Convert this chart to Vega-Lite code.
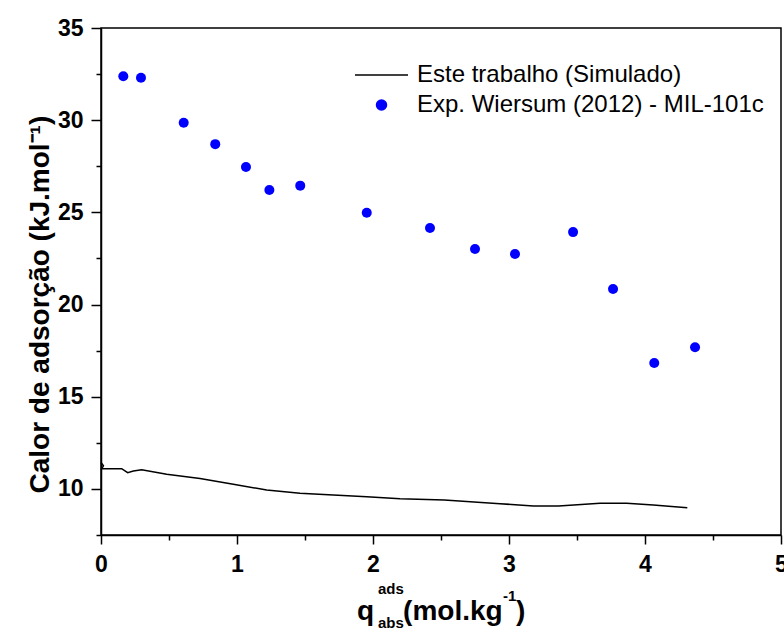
{
  "$schema": "https://vega.github.io/schema/vega-lite/v6.json",
  "width": 680,
  "height": 507,
  "autosize": {"type": "none"},
  "padding": {"left": 101, "top": 28, "right": 3, "bottom": 95},
  "background": "white",
  "config": {
    "font": "Liberation Sans",
    "view": {"stroke": "black", "strokeWidth": 1.5},
    "axis": {
      "grid": false,
      "domainColor": "black",
      "domainWidth": 1.5,
      "tickColor": "black",
      "tickWidth": 1.5,
      "labelColor": "black",
      "titleColor": "black",
      "labelFont": "Liberation Sans",
      "titleFont": "Liberation Sans",
      "labelFontWeight": "bold",
      "labelFontSize": 23,
      "labelFlush": false,
      "labelOverlap": false
    },
    "text": {"font": "Liberation Sans", "color": "black"}
  },
  "datasets": {
    "sim": [
      {"i": 0, "q": 0.0, "H": 11.43},
      {"i": 1, "q": 0.018, "H": 11.25},
      {"i": 2, "q": 0.005, "H": 11.10},
      {"i": 3, "q": 0.152, "H": 11.10},
      {"i": 4, "q": 0.196, "H": 10.88},
      {"i": 5, "q": 0.238, "H": 10.97},
      {"i": 6, "q": 0.299, "H": 11.04},
      {"i": 7, "q": 0.483, "H": 10.79},
      {"i": 8, "q": 0.728, "H": 10.57},
      {"i": 9, "q": 0.973, "H": 10.25},
      {"i": 10, "q": 1.218, "H": 9.94},
      {"i": 11, "q": 1.463, "H": 9.76},
      {"i": 12, "q": 1.708, "H": 9.67},
      {"i": 13, "q": 1.954, "H": 9.58},
      {"i": 14, "q": 2.199, "H": 9.47},
      {"i": 15, "q": 2.524, "H": 9.40},
      {"i": 16, "q": 2.934, "H": 9.20},
      {"i": 17, "q": 3.179, "H": 9.07},
      {"i": 18, "q": 3.365, "H": 9.07},
      {"i": 19, "q": 3.669, "H": 9.22},
      {"i": 20, "q": 3.865, "H": 9.22},
      {"i": 21, "q": 4.061, "H": 9.13},
      {"i": 22, "q": 4.311, "H": 8.98}
    ],
    "exp": [
      {"q": 0.164, "H": 32.38},
      {"q": 0.294, "H": 32.30},
      {"q": 0.608, "H": 29.86},
      {"q": 0.840, "H": 28.70},
      {"q": 1.066, "H": 27.46},
      {"q": 1.238, "H": 26.21},
      {"q": 1.465, "H": 26.45},
      {"q": 1.954, "H": 24.98},
      {"q": 2.419, "H": 24.15},
      {"q": 2.750, "H": 23.01},
      {"q": 3.044, "H": 22.74},
      {"q": 3.471, "H": 23.93},
      {"q": 3.765, "H": 20.84},
      {"q": 4.068, "H": 16.83},
      {"q": 4.368, "H": 17.68}
    ]
  },
  "layer": [
    {
      "data": {"name": "sim"},
      "mark": {"type": "line", "strokeWidth": 1.5},
      "encoding": {
        "x": {
          "field": "q", "type": "quantitative",
          "scale": {"domain": [0, 5], "nice": false, "zero": false},
          "axis": {"orient": "bottom", "values": [0, 1, 2, 3, 4, 5], "format": "d", "tickSize": 9, "labelPadding": 9, "title": null}
        },
        "y": {
          "field": "H", "type": "quantitative",
          "scale": {"domain": [7.5, 35], "nice": false, "zero": false},
          "axis": {
            "orient": "left", "values": [10, 15, 20, 25, 30, 35], "format": "d", "tickSize": 10, "labelPadding": 8,
            "title": "Calor de adsorção (kJ.mol⁻¹)",
            "titleFontSize": 28, "titleFontWeight": "bold",
            "titleAngle": 270, "titleAlign": "left", "titleBaseline": "alphabetic",
            "titleX": -53, "titleY": 465
          }
        },
        "color": {
          "datum": "Este trabalho (Simulado)",
          "scale": {"domain": ["Este trabalho (Simulado)", "Exp. Wiersum (2012) - MIL-101c"], "range": ["black", "blue"]},
          "legend": {
            "orient": "none", "legendX": 254, "legendY": 32, "title": null, "padding": 0,
            "clipHeight": 30, "rowPadding": 0,
            "labelFont": "Liberation Sans", "labelFontSize": 24, "labelColor": "black", "labelLimit": 1000,
            "encode": {
              "symbols": {
                "update": {
                  "shape": {"signal": "datum.value === 'Este trabalho (Simulado)' ? 'stroke' : 'circle'"},
                  "size": {"signal": "datum.value === 'Este trabalho (Simulado)' ? 2809 : 100"},
                  "fill": {"signal": "datum.value === 'Este trabalho (Simulado)' ? 'transparent' : 'blue'"},
                  "stroke": {"signal": "datum.value === 'Este trabalho (Simulado)' ? 'black' : 'transparent'"},
                  "strokeWidth": {"value": 1.5},
                  "opacity": {"value": 1},
                  "x": {"value": 26.5}
                }
              },
              "labels": {
                "update": {"x": {"value": 62}}
              }
            }
          }
        },
        "order": {"field": "i"}
      }
    },
    {
      "data": {"name": "exp"},
      "mark": {"type": "point", "filled": true, "size": 100, "opacity": 1},
      "encoding": {
        "x": {
          "field": "q", "type": "quantitative",
          "scale": {"domain": [0, 5], "nice": false, "zero": false},
          "axis": {"orient": "bottom", "values": [0.5, 1.5, 2.5, 3.5, 4.5], "labels": false, "domain": false, "tickSize": 5, "title": null}
        },
        "y": {
          "field": "H", "type": "quantitative",
          "scale": {"domain": [7.5, 35], "nice": false, "zero": false},
          "axis": {"orient": "left", "values": [7.5, 12.5, 17.5, 22.5, 27.5, 32.5], "labels": false, "domain": false, "tickSize": 5, "title": null}
        },
        "color": {"datum": "Exp. Wiersum (2012) - MIL-101c"}
      }
    },
    {
      "data": {"values": [{}]},
      "mark": {"type": "text", "align": "left", "baseline": "alphabetic", "fontSize": 28, "fontWeight": "bold"},
      "encoding": {
        "x": {"datum": 1.882, "type": "quantitative", "scale": {"domain": [0, 5], "nice": false, "zero": false}, "axis": null},
        "y": {"datum": 2.89, "type": "quantitative", "scale": {"domain": [7.5, 35], "nice": false, "zero": false}, "axis": null},
        "text": {"value": "q"}
      }
    },
    {
      "data": {"values": [{}]},
      "mark": {"type": "text", "align": "left", "baseline": "alphabetic", "fontSize": 15, "fontWeight": "bold"},
      "encoding": {
        "x": {"datum": 2.037, "type": "quantitative", "scale": {"domain": [0, 5], "nice": false, "zero": false}, "axis": null},
        "y": {"datum": 4.3, "type": "quantitative", "scale": {"domain": [7.5, 35], "nice": false, "zero": false}, "axis": null},
        "text": {"value": "ads"}
      }
    },
    {
      "data": {"values": [{}]},
      "mark": {"type": "text", "align": "left", "baseline": "alphabetic", "fontSize": 15, "fontWeight": "bold"},
      "encoding": {
        "x": {"datum": 2.037, "type": "quantitative", "scale": {"domain": [0, 5], "nice": false, "zero": false}, "axis": null},
        "y": {"datum": 2.47, "type": "quantitative", "scale": {"domain": [7.5, 35], "nice": false, "zero": false}, "axis": null},
        "text": {"value": "abs"}
      }
    },
    {
      "data": {"values": [{}]},
      "mark": {"type": "text", "align": "left", "baseline": "alphabetic", "fontSize": 28, "fontWeight": "bold"},
      "encoding": {
        "x": {"datum": 2.221, "type": "quantitative", "scale": {"domain": [0, 5], "nice": false, "zero": false}, "axis": null},
        "y": {"datum": 2.89, "type": "quantitative", "scale": {"domain": [7.5, 35], "nice": false, "zero": false}, "axis": null},
        "text": {"value": "(mol.kg"}
      }
    },
    {
      "data": {"values": [{}]},
      "mark": {"type": "text", "align": "left", "baseline": "alphabetic", "fontSize": 15, "fontWeight": "bold"},
      "encoding": {
        "x": {"datum": 2.955, "type": "quantitative", "scale": {"domain": [0, 5], "nice": false, "zero": false}, "axis": null},
        "y": {"datum": 3.9, "type": "quantitative", "scale": {"domain": [7.5, 35], "nice": false, "zero": false}, "axis": null},
        "text": {"value": "-1"}
      }
    },
    {
      "data": {"values": [{}]},
      "mark": {"type": "text", "align": "left", "baseline": "alphabetic", "fontSize": 28, "fontWeight": "bold"},
      "encoding": {
        "x": {"datum": 3.051, "type": "quantitative", "scale": {"domain": [0, 5], "nice": false, "zero": false}, "axis": null},
        "y": {"datum": 2.89, "type": "quantitative", "scale": {"domain": [7.5, 35], "nice": false, "zero": false}, "axis": null},
        "text": {"value": ")"}
      }
    }
  ],
  "resolve": {"axis": {"x": "independent", "y": "independent"}}
}
